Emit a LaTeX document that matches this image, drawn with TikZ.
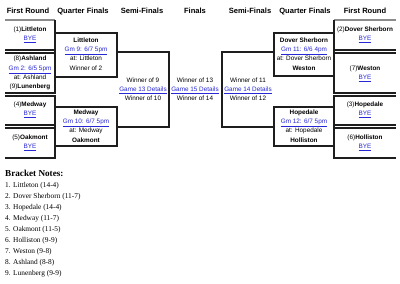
\documentclass[tikz,border=0pt]{standalone}
\usepackage{fontspec}
\setmainfont{Liberation Serif}
\setsansfont{Liberation Sans}
\definecolor{linkblue}{RGB}{40,40,215}
\definecolor{bracketline}{RGB}{30,30,30}
\newcommand{\lnk}[1]{\textcolor{linkblue}{\underline{#1}}}
\begin{document}
\begin{tikzpicture}[x=1bp,y=-1bp,
  hdr/.style={font=\sffamily\bfseries\fontsize{7.6}{8}\selectfont, inner sep=0pt, anchor=base},
  txt/.style={font=\sffamily\fontsize{6.4}{9.2}\selectfont, inner sep=0pt, align=center},
  bline/.style={line width=1.1bp, draw=bracketline},
  topline/.style={line width=1.1bp, draw=black!45},
  note/.style={font=\fontsize{7.4}{8}\selectfont, inner sep=0pt, anchor=base west},
  notehead/.style={font=\bfseries\fontsize{9.2}{10}\selectfont, inner sep=0pt, anchor=base west}
]
\useasboundingbox[fill=white] (0,0) rectangle (400,284);

% headers
\node[hdr] (h1) at (28,13.7) {First Round};
\node[hdr] (h2) at (83,13.7) {Quarter Finals};
\node[hdr] (h3) at (142,13.7) {Semi-Finals};
\node[hdr] (h4) at (195,13.7) {Finals};
\node[hdr] (h5) at (250,13.7) {Semi-Finals};
\node[hdr] (h6) at (305,13.7) {Quarter Finals};
\node[hdr] (h7) at (365,13.7) {First Round};

% left first round brackets
\draw[topline] (5,20) -- (55,20);
\draw[bline] (55,20) -- (55,50) -- (5,50);
\draw[bline] (5,53) -- (55,53) -- (55,93) -- (5,93);
\draw[bline] (5,96) -- (55,96) -- (55,125) -- (5,125);
\draw[bline] (5,128) -- (55,128) -- (55,158) -- (5,158);

% right first round brackets
\draw[topline] (396,20) -- (334,20);
\draw[bline] (334,20) -- (334,50) -- (396,50);
\draw[bline] (396,53) -- (334,53) -- (334,93) -- (396,93);
\draw[bline] (396,96) -- (334,96) -- (334,125) -- (396,125);
\draw[bline] (396,128) -- (334,128) -- (334,158) -- (396,158);

% quarter final boxes
\draw[bline] (55,33) rectangle (117,77);
\draw[bline] (55,107) rectangle (117,146);
\draw[bline] (274,33) rectangle (334,76);
\draw[bline] (274,107) rectangle (334,146);

% semi final brackets
\draw[bline] (117,52) -- (169,52) -- (169,127) -- (117,127);
\draw[bline] (274,52) -- (222,52) -- (222,127) -- (274,127);

% left first round texts
\node[txt] (l1) at (30,35) {(1)\textbf{Littleton}\\\lnk{BYE}};
\node[txt] (l2) at (30,73) {(8)\textbf{Ashland}\\\lnk{Gm 2: 6/5 5pm}\\at: Ashland\\(9)\textbf{Lunenberg}};
\node[txt] (l3) at (30,109.5) {(4)\textbf{Medway}\\\lnk{BYE}};
\node[txt] (l4) at (30,142.5) {(5)\textbf{Oakmont}\\\lnk{BYE}};

% right first round texts
\node[txt] (r1) at (365,35) {(2)\textbf{Dover Sherborn}\\\lnk{BYE}};
\node[txt] (r2) at (365,73.5) {(7)\textbf{Weston}\\\lnk{BYE}};
\node[txt] (r3) at (365,109.5) {(3)\textbf{Hopedale}\\\lnk{BYE}};
\node[txt] (r4) at (365,142.5) {(6)\textbf{Holliston}\\\lnk{BYE}};

% quarter final texts
\node[txt] (q1) at (86,54) {\textbf{Littleton}\\\lnk{Gm 9: 6/7 5pm}\\at: Littleton\\Winner of 2};
\node[txt] (q2) at (86,126) {\textbf{Medway}\\\lnk{Gm 10: 6/7 5pm}\\at: Medway\\\textbf{Oakmont}};
\node[txt] (q3) at (304,54) {\textbf{Dover Sherborn}\\\lnk{Gm 11: 6/6 4pm}\\at: Dover Sherborn\\\textbf{Weston}};
\node[txt] (q4) at (304,126) {\textbf{Hopedale}\\\lnk{Gm 12: 6/7 5pm}\\at: Hopedale\\\textbf{Holliston}};

% semi final and final texts
\node[txt] (s1) at (143,89.5) {Winner of 9\\\lnk{Game 13 Details}\\Winner of 10};
\node[txt] (f1) at (195,89.5) {Winner of 13\\\lnk{Game 15 Details}\\Winner of 14};
\node[txt] (s2) at (248,89.5) {Winner of 11\\\lnk{Game 14 Details}\\Winner of 12};

% bracket notes
\node[notehead] (nh) at (5,176.5) {Bracket Notes:};
\node[note] (n1) at (5,187) {1. Littleton (14-4)};
\node[note] (n2) at (5,198.1) {2. Dover Sherborn (11-7)};
\node[note] (n3) at (5,209.2) {3. Hopedale (14-4)};
\node[note] (n4) at (5,220.3) {4. Medway (11-7)};
\node[note] (n5) at (5,231.4) {5. Oakmont (11-5)};
\node[note] (n6) at (5,242.5) {6. Holliston (9-9)};
\node[note] (n7) at (5,253.6) {7. Weston (9-8)};
\node[note] (n8) at (5,264.7) {8. Ashland (8-8)};
\node[note] (n9) at (5,275.8) {9. Lunenberg (9-9)};
\end{tikzpicture}
\end{document}
